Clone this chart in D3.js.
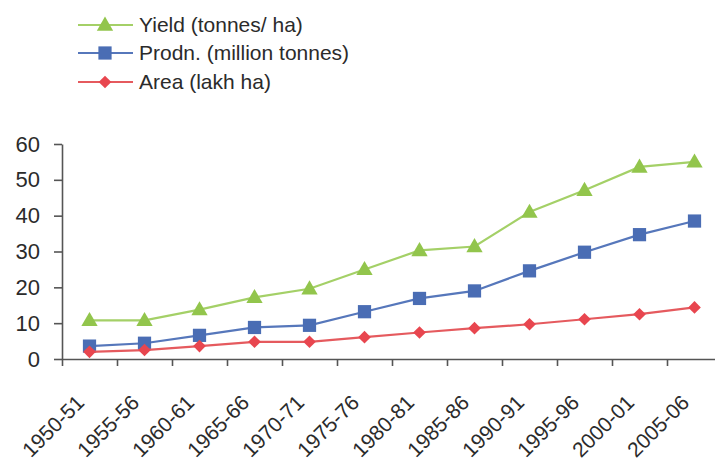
<!DOCTYPE html>
<html>
<head>
<meta charset="utf-8">
<script src="https://cdn.jsdelivr.net/npm/d3@7"></script>
<style>
  html, body { margin: 0; padding: 0; background: #fff; }
  svg { display: block; font-family: "Liberation Sans", Arial, sans-serif; }
</style>
</head>
<body>
<svg id="chart" width="715" height="464"></svg>
<script>
// Crop statistics, 1950-51 to 2005-06
const categories = ["1950-51", "1955-56", "1960-61", "1965-66", "1970-71", "1975-76",
                    "1980-81", "1985-86", "1990-91", "1995-96", "2000-01", "2005-06"];
const yieldValues = [10.8, 10.8, 13.8, 17.2, 19.6, 25.0, 30.3, 31.4, 41.0, 47.1, 53.6, 55.0];
const prodnValues = [3.6, 4.4, 6.6, 8.8, 9.4, 13.2, 16.9, 19.0, 24.6, 29.8, 34.7, 38.5];
const areaValues  = [2.0, 2.5, 3.6, 4.8, 4.8, 6.1, 7.4, 8.6, 9.7, 11.1, 12.5, 14.4];
const yTicks = [0, 10, 20, 30, 40, 50, 60];

const series = [
  { name: "Yield (tonnes/ ha)",      values: yieldValues, line: "#a4d067", fill: "#92c54c", symbol: "triangle" },
  { name: "Prodn. (million tonnes)", values: prodnValues, line: "#5677bb", fill: "#4a6db4", symbol: "square" },
  { name: "Area (lakh ha)",          values: areaValues,  line: "#e55a5e", fill: "#e8464f", symbol: "diamond" }
];

const svg = d3.select("#chart");

const x = d3.scaleBand().domain(categories).range([62, 722]).padding(0);
const xEdge = d3.scaleLinear().domain([0, categories.length]).range([62, 722]);
const y = d3.scaleLinear().domain([0, 60]).range([359, 144]);

const axisColor = "#555";
const textColor = "#2b2b2b";

// y axis
const yAxis = svg.append("g")
  .attr("transform", "translate(62,0)")
  .call(d3.axisLeft(y).tickValues(yTicks).tickSize(8).tickSizeOuter(0).tickPadding(14));
yAxis.select(".domain").attr("stroke", axisColor).attr("stroke-width", 1.6);
yAxis.selectAll(".tick line").attr("stroke", axisColor).attr("stroke-width", 1.6);
yAxis.selectAll(".tick text")
  .attr("fill", textColor).attr("font-size", 22).attr("dy", "0.32em")
  .style("font-family", "'Liberation Sans', Arial, sans-serif");

// x axis: tick marks on category boundaries
const xTickAxis = svg.append("g")
  .attr("transform", "translate(0,359)")
  .call(d3.axisBottom(xEdge).tickValues(d3.range(0, categories.length + 1))
        .tickSize(7).tickSizeOuter(0).tickFormat(""));
xTickAxis.select(".domain").attr("stroke", axisColor).attr("stroke-width", 1.6);
xTickAxis.selectAll(".tick line").attr("stroke", axisColor).attr("stroke-width", 1.6);

// x axis: rotated category labels
const xLabelAxis = svg.append("g")
  .attr("transform", "translate(0,359)")
  .call(d3.axisBottom(x).tickSize(0).tickSizeOuter(0));
xLabelAxis.select(".domain").remove();
xLabelAxis.selectAll(".tick text")
  .attr("x", 0).attr("y", 0).attr("dy", 0)
  .attr("text-anchor", "end")
  .attr("transform", "translate(-4,45) rotate(-45)")
  .attr("fill", textColor).attr("font-size", 21)
  .style("font-family", "'Liberation Sans', Arial, sans-serif");

// diamond drawn as a square turned by 45 degrees
const symbolType = { triangle: d3.symbolTriangle, square: d3.symbolSquare, diamond: d3.symbolSquare };
const symbolSize = { triangle: 115, square: 175, diamond: 80 };
const symbolRotate = { triangle: 0, square: 0, diamond: 45 };
const symbolShift = { triangle: 1, square: 0, diamond: 0 };

const cx = c => x(c) + x.bandwidth() / 2;
const line = d3.line().x(d => cx(d.c)).y(d => y(d.v));

series.forEach(s => {
  const pts = categories.map((c, i) => ({ c, v: s.values[i] }));
  const g = svg.append("g");
  g.append("path").datum(pts)
    .attr("fill", "none").attr("stroke", s.line).attr("stroke-width", 2.2)
    .attr("d", line);
  g.selectAll("path.mark").data(pts).join("path")
    .attr("class", "mark")
    .attr("transform", d => `translate(${cx(d.c)},${y(d.v) + symbolShift[s.symbol]}) rotate(${symbolRotate[s.symbol]})`)
    .attr("d", d3.symbol().type(symbolType[s.symbol]).size(symbolSize[s.symbol]))
    .attr("fill", s.fill);
});

// legend
const legend = svg.append("g");
const legendRows = [25, 53, 82];
series.forEach((s, i) => {
  const ly = legendRows[i];
  legend.append("line")
    .attr("x1", 78).attr("x2", 133).attr("y1", ly).attr("y2", ly)
    .attr("stroke", s.line).attr("stroke-width", 2.2);
  legend.append("path")
    .attr("transform", `translate(105,${ly + symbolShift[s.symbol]}) rotate(${symbolRotate[s.symbol]})`)
    .attr("d", d3.symbol().type(symbolType[s.symbol]).size(symbolSize[s.symbol]))
    .attr("fill", s.fill);
  legend.append("text")
    .attr("x", 139).attr("y", ly).attr("dy", "0.35em")
    .attr("fill", textColor).attr("font-size", 21)
    .text(s.name);
});
</script>
</body>
</html>
